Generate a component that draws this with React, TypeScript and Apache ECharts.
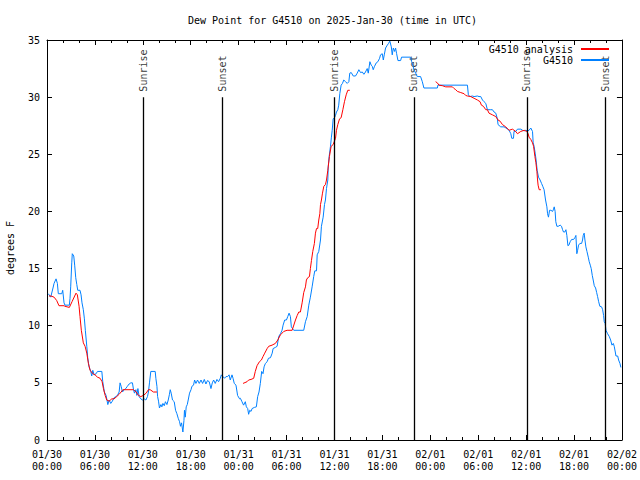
import React, { useEffect, useRef } from "react";
import * as echarts from "echarts";

// Observations (minutes after 2025-01-30 00:00 UTC, dew point in F)
const obsMinutes = [
  10, 28, 30, 45, 53, 68, 78, 85, 111, 118, 128, 135, 168, 173, 178, 186, 190, 201, 208, 216,
  224, 231, 248, 256, 263, 273, 281, 288, 299, 306, 316, 329, 336, 344, 354, 369, 379, 412, 419, 431,
  444, 457, 467, 479, 491, 504, 517, 529, 542, 549, 557, 567, 580, 592, 604, 617, 630, 642, 650, 657,
  668, 675, 683, 692, 705, 717, 730, 743, 755, 762, 770, 780, 813, 818, 826, 831, 838, 845, 856, 863,
  871, 881, 890, 901, 911, 920, 926, 933, 943, 956, 966, 976, 986, 996, 1003, 1011, 1021, 1029, 1033, 1039,
  1046, 1054, 1061, 1071, 1082, 1089, 1101, 1109, 1119, 1131, 1144, 1157, 1169, 1182, 1194, 1206, 1219, 1232, 1242, 1252,
  1264, 1277, 1289, 1302, 1310, 1322, 1334, 1345, 1357, 1368, 1377, 1390, 1398, 1407, 1420, 1432, 1447, 1453, 1465, 1477,
  1490, 1498, 1508, 1515, 1523, 1533, 1541, 1558, 1573, 1583, 1593, 1603, 1613, 1623, 1631, 1641, 1654, 1664, 1679, 1692,
  1699, 1716, 1729, 1741, 1754, 1766, 1774, 1786, 1799, 1809, 1819, 1829, 1836, 1854, 1929, 1942, 1955, 1967, 1979, 1992,
  2004, 2012, 2025, 2030, 2042, 2055, 2062, 2075, 2085, 2092, 2100, 2110, 2113, 2120, 2130, 2137, 2143, 2150, 2160, 2168,
  2175, 2185, 2192, 2200, 2210, 2220, 2230, 2243, 2256, 2268, 2275, 2286, 2301, 2318, 2331, 2343, 2356, 2369, 2381, 2393,
  2406, 2414, 2426, 2436, 2444, 2451, 2461, 2474, 2486, 2499, 2506, 2519, 2527, 2534, 2544, 2557, 2566, 2576, 2587, 2594,
  2602, 2612, 2619, 2627, 2637, 2657, 2664, 2732, 2740, 2749, 2757, 2770, 2782, 2807, 2820, 2832, 2933, 2937, 3159, 3166,
  3178, 3196, 3209, 3234, 3246, 3259, 3272, 3284, 3297, 3309, 3334, 3347, 3359, 3372, 3384, 3389, 3409, 3434, 3449, 3460,
  3472, 3485, 3492, 3505, 3509, 3522, 3535, 3560, 3573, 3585, 3598, 3610, 3622, 3635, 3648, 3653, 3660, 3668, 3675, 3683,
  3693, 3705, 3716, 3725, 3735, 3746, 3756, 3761, 3768, 3776, 3786, 3799, 3806, 3811, 3818, 3823, 3831, 3841, 3856, 3866,
  3874, 3881, 3891, 3899, 3906, 3914, 3921, 3931, 3942, 3957, 3966, 3974, 3981, 3987, 3994, 4004, 4017, 4024, 4029, 4036,
  4042, 4049, 4057, 4067, 4074, 4082, 4089, 4097, 4104, 4112, 4122, 4130, 4137, 4145, 4154, 4167, 4175, 4182, 4187, 4194,
  4200, 4212, 4225, 4235, 4245, 4255, 4262, 4270, 4275, 4288, 4295, 4305, 4312,
];
const obsValues = [
  12.8, 12.5, 12.5, 13.3, 13.7, 14.1, 13.7, 12.8, 12.8, 13.1, 12.0, 11.8, 11.8, 12.4, 13.4, 15.5, 16.3, 16.1, 15.3, 14.2,
  13.6, 13.1, 13.1, 12.7, 12.0, 11.4, 10.6, 9.6, 8.2, 7.2, 6.4, 6.0, 5.6, 6.1, 5.7, 5.8, 6.0, 6.0, 5.1, 4.2,
  3.9, 3.1, 3.5, 3.2, 3.4, 3.7, 3.8, 3.9, 4.2, 5.0, 4.7, 4.2, 4.4, 4.5, 4.7, 4.9, 5.0, 5.0, 4.4, 4.1,
  4.4, 3.9, 4.5, 3.8, 3.6, 3.5, 3.6, 3.5, 3.8, 4.2, 5.0, 6.0, 6.0, 5.4, 4.7, 3.8, 3.4, 2.8, 3.1, 2.9,
  3.2, 3.0, 3.35, 3.1, 3.5, 4.0, 4.4, 4.1, 3.5, 3.35, 2.6, 2.3, 1.9, 1.6, 1.2, 1.5, 0.7, 1.7, 2.6, 2.0,
  2.9, 3.1, 3.5, 4.1, 4.4, 4.7, 4.8, 5.25, 4.95, 5.25, 4.95, 5.25, 4.95, 5.3, 4.9, 5.2, 5.1, 4.5, 5.0, 5.25,
  4.95, 5.3, 5.1, 5.4, 5.7, 5.55, 5.4, 5.55, 5.55, 5.7, 5.25, 5.7, 5.4, 4.95, 4.8, 3.9, 3.6, 3.65, 3.35, 3.05,
  3.35, 2.9, 2.75, 2.25, 2.6, 2.5, 2.75, 2.85, 2.9, 3.8, 4.2, 4.95, 6.0, 5.8, 6.4, 6.7, 6.85, 7.15, 7.2, 7.6,
  8.0, 8.1, 8.2, 9.05, 9.3, 9.6, 10.05, 10.5, 10.5, 10.8, 11.1, 10.8, 9.9, 9.6, 9.6, 10.35, 10.8, 11.8, 12.5, 13.4,
  14.3, 14.8, 14.8, 16.2, 16.5, 17.5, 18.7, 19.5, 20.6, 21.0, 22.0, 22.75, 23.9, 24.8, 25.7, 26.5, 27.1, 28.1, 28.2, 28.4,
  28.7, 28.9, 29.3, 30.3, 31.05, 31.2, 31.5, 31.35, 31.2, 31.35, 32.1, 32.15, 31.85, 31.85, 32.1, 32.4, 32.15, 32.2, 32.0, 32.2,
  32.5, 32.1, 33.1, 32.8, 32.7, 32.4, 32.7, 33.0, 33.1, 33.4, 33.7, 33.8, 33.25, 33.7, 34.3, 34.55, 34.7, 34.9, 34.4, 33.7,
  34.3, 34.0, 34.3, 33.8, 33.2, 33.2, 33.5, 33.5, 33.1, 32.8, 32.4, 32.1, 31.8, 31.8, 31.35, 30.8, 30.8, 31.05, 31.05, 30.2,
  30.05, 30.1, 30.05, 30.1, 30.05, 30.05, 29.75, 29.6, 29.45, 28.9, 28.9, 28.9, 28.7, 28.6, 28.1, 27.6, 27.4, 27.4, 27.3, 27.2,
  27.1, 26.8, 26.4, 26.4, 27.0, 27.0, 27.2, 27.2, 27.1, 27.05, 27.1, 27.05, 27.1, 27.3, 27.0, 26.0, 25.7, 25.1, 24.5, 23.6,
  23.0, 22.75, 22.45, 22.2, 21.9, 21.0, 20.4, 19.8, 19.5, 20.1, 20.1, 20.0, 20.2, 20.4, 20.0, 19.1, 18.7, 18.7, 18.8, 18.7,
  18.4, 18.2, 18.2, 18.4, 17.9, 17.0, 17.05, 17.35, 17.55, 17.55, 17.7, 17.9, 16.3, 16.6, 17.05, 17.2, 17.2, 17.5, 17.9, 18.1,
  17.5, 16.9, 16.5, 16.0, 15.6, 15.3, 15.0, 14.4, 14.0, 13.5, 13.3, 12.9, 12.55, 12.1, 11.7, 11.65, 11.4, 10.9, 10.35, 10.2,
  9.6, 9.3, 9.05, 8.75, 8.3, 8.45, 8.2, 7.7, 7.35, 7.35, 7.0, 6.7, 6.35,
];

// Analysis (null value = gap in the analysis record)
const anaMinutes = [
  15, 30, 53, 73, 90, 128, 135, 168, 188, 218, 228, 241, 248, 258, 273, 286, 299, 311, 324, 344,
  361, 379, 399, 414, 424, 437, 449, 467, 487, 504, 524, 542, 557, 570, 650, 670, 687, 705, 724, 745,
  762, 775, 800, 826, 1150,
  1473, 1503, 1515, 1533, 1553, 1565, 1578, 1596, 1611, 1623, 1636, 1654, 1666, 1691, 1716, 1734, 1754, 1779, 1804, 1842,
  1867, 1880, 1892, 1904, 1917, 1929, 1942, 1949, 1959, 1972, 1979, 1987, 1997, 2009, 2017, 2025, 2034, 2042, 2050, 2055,
  2062, 2070, 2080, 2092, 2100, 2110, 2122, 2135, 2150, 2168, 2175, 2185, 2198, 2210, 2223, 2235, 2248, 2260, 2275, 2600,
  2920, 2933, 2945, 2971, 2996, 3046, 3059, 3071, 3084, 3109, 3134, 3146, 3159, 3184, 3209, 3234, 3254, 3264, 3279, 3297,
  3309, 3321, 3347, 3372, 3389, 3404, 3422, 3447, 3472, 3497, 3522, 3535, 3560, 3585, 3605, 3615, 3622, 3635, 3648, 3656,
  3666, 3673, 3681, 3686, 3690, 3698, 3711,
];
const anaValues: (number | null)[] = [
  12.6, 12.6, 12.5, 12.2, 11.75, 11.75, 11.7, 11.6, 12.1, 12.85, 12.7, 11.7, 10.8, 9.6, 8.5, 8.2, 7.6, 6.7, 6.1, 5.8,
  5.7, 5.5, 5.4, 5.1, 4.5, 3.9, 3.5, 3.4, 3.6, 3.6, 3.8, 4.0, 4.2, 4.4, 4.4, 4.2, 3.9, 3.8, 3.9, 4.1,
  4.4, 4.4, 4.2, 4.2, null,
  4.95, 5.1, 5.25, 5.3, 5.4, 6.0, 6.5, 6.85, 7.0, 7.3, 7.6, 8.0, 8.2, 8.3, 8.45, 8.75, 9.2, 9.5, 9.6, 9.6,
  10.5, 10.9, 11.2, 11.2, 12.0, 12.9, 13.4, 14.0, 14.2, 14.3, 15.0, 15.7, 16.5, 17.2, 18.1, 18.5, 18.5, 19.25, 19.8, 20.6,
  21.0, 21.6, 22.2, 22.35, 22.75, 23.6, 24.8, 25.7, 25.85, 26.4, 27.1, 27.6, 28.1, 28.2, 28.9, 29.6, 30.2, 30.6, 30.6, null,
  31.35, 31.25, 31.05, 31.0, 30.9, 30.9, 30.75, 30.65, 30.5, 30.4, 30.3, 30.15, 30.1, 30.05, 29.9, 29.75, 29.6, 29.3, 29.2, 28.9,
  28.9, 28.6, 28.45, 28.3, 28.0, 27.9, 27.6, 27.4, 27.1, 27.2, 27.0, 26.8, 27.0, 27.1, 27.0, 26.8, 26.5, 26.3, 26.0, 25.7,
  24.8, 24.3, 23.5, 22.75, 22.3, 21.9, 21.9,
];

const sunMinutes = [725, 1315, 2162, 2757, 3605, 4194];
const sunLabels = ["Sunrise", "Sunset", "Sunrise", "Sunset", "Sunrise", "Sunset"];

const xTickLabels = [
  "01/30\n00:00", "01/30\n06:00", "01/30\n12:00", "01/30\n18:00",
  "01/31\n00:00", "01/31\n06:00", "01/31\n12:00", "01/31\n18:00",
  "02/01\n00:00", "02/01\n06:00", "02/01\n12:00", "02/01\n18:00",
  "02/02\n00:00",
];

const FONT = "DejaVu Sans Mono";
const anaName = "G4510 analysis";
const obsName = "G4510";

export default function App() {
  const ref = useRef<HTMLDivElement>(null);
  useEffect(() => {
    if (!ref.current) return;
    const chart = echarts.init(ref.current, undefined, { renderer: "svg" });
    const obsData = obsMinutes.map((m, i) => [m / 60, obsValues[i]]);
    const anaData = anaMinutes.map((m, i) => [m / 60, anaValues[i] === null ? "-" : anaValues[i]]);
    const sunData = sunMinutes.map((m) => [m / 60, 30]);
    const axisCommon = {
      axisLine: { show: true, onZero: false, lineStyle: { color: "#000", width: 1 } },
      splitLine: { show: false },
    };
    const tick = { show: true, inside: true, length: 5, lineStyle: { color: "#000" } };
    const minor = { show: true, splitNumber: 3, length: 3, lineStyle: { color: "#000" } };
    chart.setOption({
      animation: false,
      backgroundColor: "#fff",
      textStyle: { fontFamily: FONT, fontSize: 10, color: "#000" },
      title: {
        text: "Dew Point for G4510 on 2025-Jan-30 (time in UTC)",
        left: 188,
        top: 15,
        padding: 0,
        textStyle: { fontFamily: FONT, fontSize: 10, fontWeight: "normal", color: "#000" },
      },
      legend: {
        data: [anaName, obsName],
        orient: "vertical",
        right: 30,
        top: 44,
        align: "right",
        itemWidth: 28,
        itemHeight: 12,
        itemGap: 1,
        padding: 0,
        itemStyle: { opacity: 0 },
        textStyle: { fontFamily: FONT, fontSize: 10, color: "#000", padding: [0, 3, 0, 0] },
      },
      grid: { left: 47, right: 18, top: 40, bottom: 40 },
      xAxis: [
        {
          type: "value",
          min: 0,
          max: 72,
          interval: 6,
          position: "bottom",
          ...axisCommon,
          axisTick: tick,
          minorTick: minor,
          axisLabel: {
            margin: 8,
            fontFamily: FONT,
            fontSize: 10,
            lineHeight: 12,
            color: "#000",
            formatter: (v: number) => xTickLabels[Math.round(v / 6)] ?? "",
          },
        },
        {
          type: "value",
          min: 0,
          max: 72,
          interval: 6,
          position: "top",
          ...axisCommon,
          axisTick: tick,
          minorTick: minor,
          axisLabel: { show: false },
        },
      ],
      yAxis: [
        {
          type: "value",
          min: 0,
          max: 35,
          interval: 5,
          position: "left",
          ...axisCommon,
          axisTick: tick,
          axisLabel: { margin: 7, fontFamily: FONT, fontSize: 10, color: "#000" },
        },
        {
          type: "value",
          min: 0,
          max: 35,
          interval: 5,
          position: "right",
          ...axisCommon,
          axisTick: tick,
          axisLabel: { show: false },
        },
      ],
      graphic: [
        {
          type: "text",
          x: 10,
          y: 248,
          rotation: Math.PI / 2,
          style: {
            text: "degrees F",
            fontFamily: FONT,
            fontSize: 10,
            fill: "#000",
            align: "center",
            verticalAlign: "middle",
          },
        },
      ],
      series: [
        {
          name: "sun",
          type: "scatter",
          data: sunData,
          symbolSize: 1,
          itemStyle: { color: "rgba(0,0,0,0)" },
          silent: true,
          z: 1,
          label: {
            show: true,
            position: "top",
            distance: 5,
            rotate: 90,
            align: "left",
            verticalAlign: "middle",
            fontFamily: FONT,
            fontSize: 10,
            color: "#000",
            formatter: (p: any) => sunLabels[p.dataIndex],
          },
          markLine: {
            silent: true,
            symbol: ["none", "none"],
            label: { show: false },
            lineStyle: { color: "#000", width: 1.3, type: "solid" },
            data: sunMinutes.map((m) => [{ coord: [m / 60, 0] }, { coord: [m / 60, 30] }]),
          },
        },
        {
          name: anaName,
          type: "line",
          data: anaData,
          symbol: "none",
          connectNulls: false,
          lineStyle: { color: "#ff0000", width: 1 },
          itemStyle: { color: "#ff0000" },
          z: 3,
        },
        {
          name: obsName,
          type: "line",
          data: obsData,
          symbol: "none",
          lineStyle: { color: "#0080ff", width: 1 },
          itemStyle: { color: "#0080ff" },
          z: 2,
        },
      ],
    });
    return () => chart.dispose();
  }, []);
  return (
    <div
      ref={ref}
      style={{ position: "absolute", left: 0, top: 0, width: 640, height: 480, background: "#fff" }}
    />
  );
}
